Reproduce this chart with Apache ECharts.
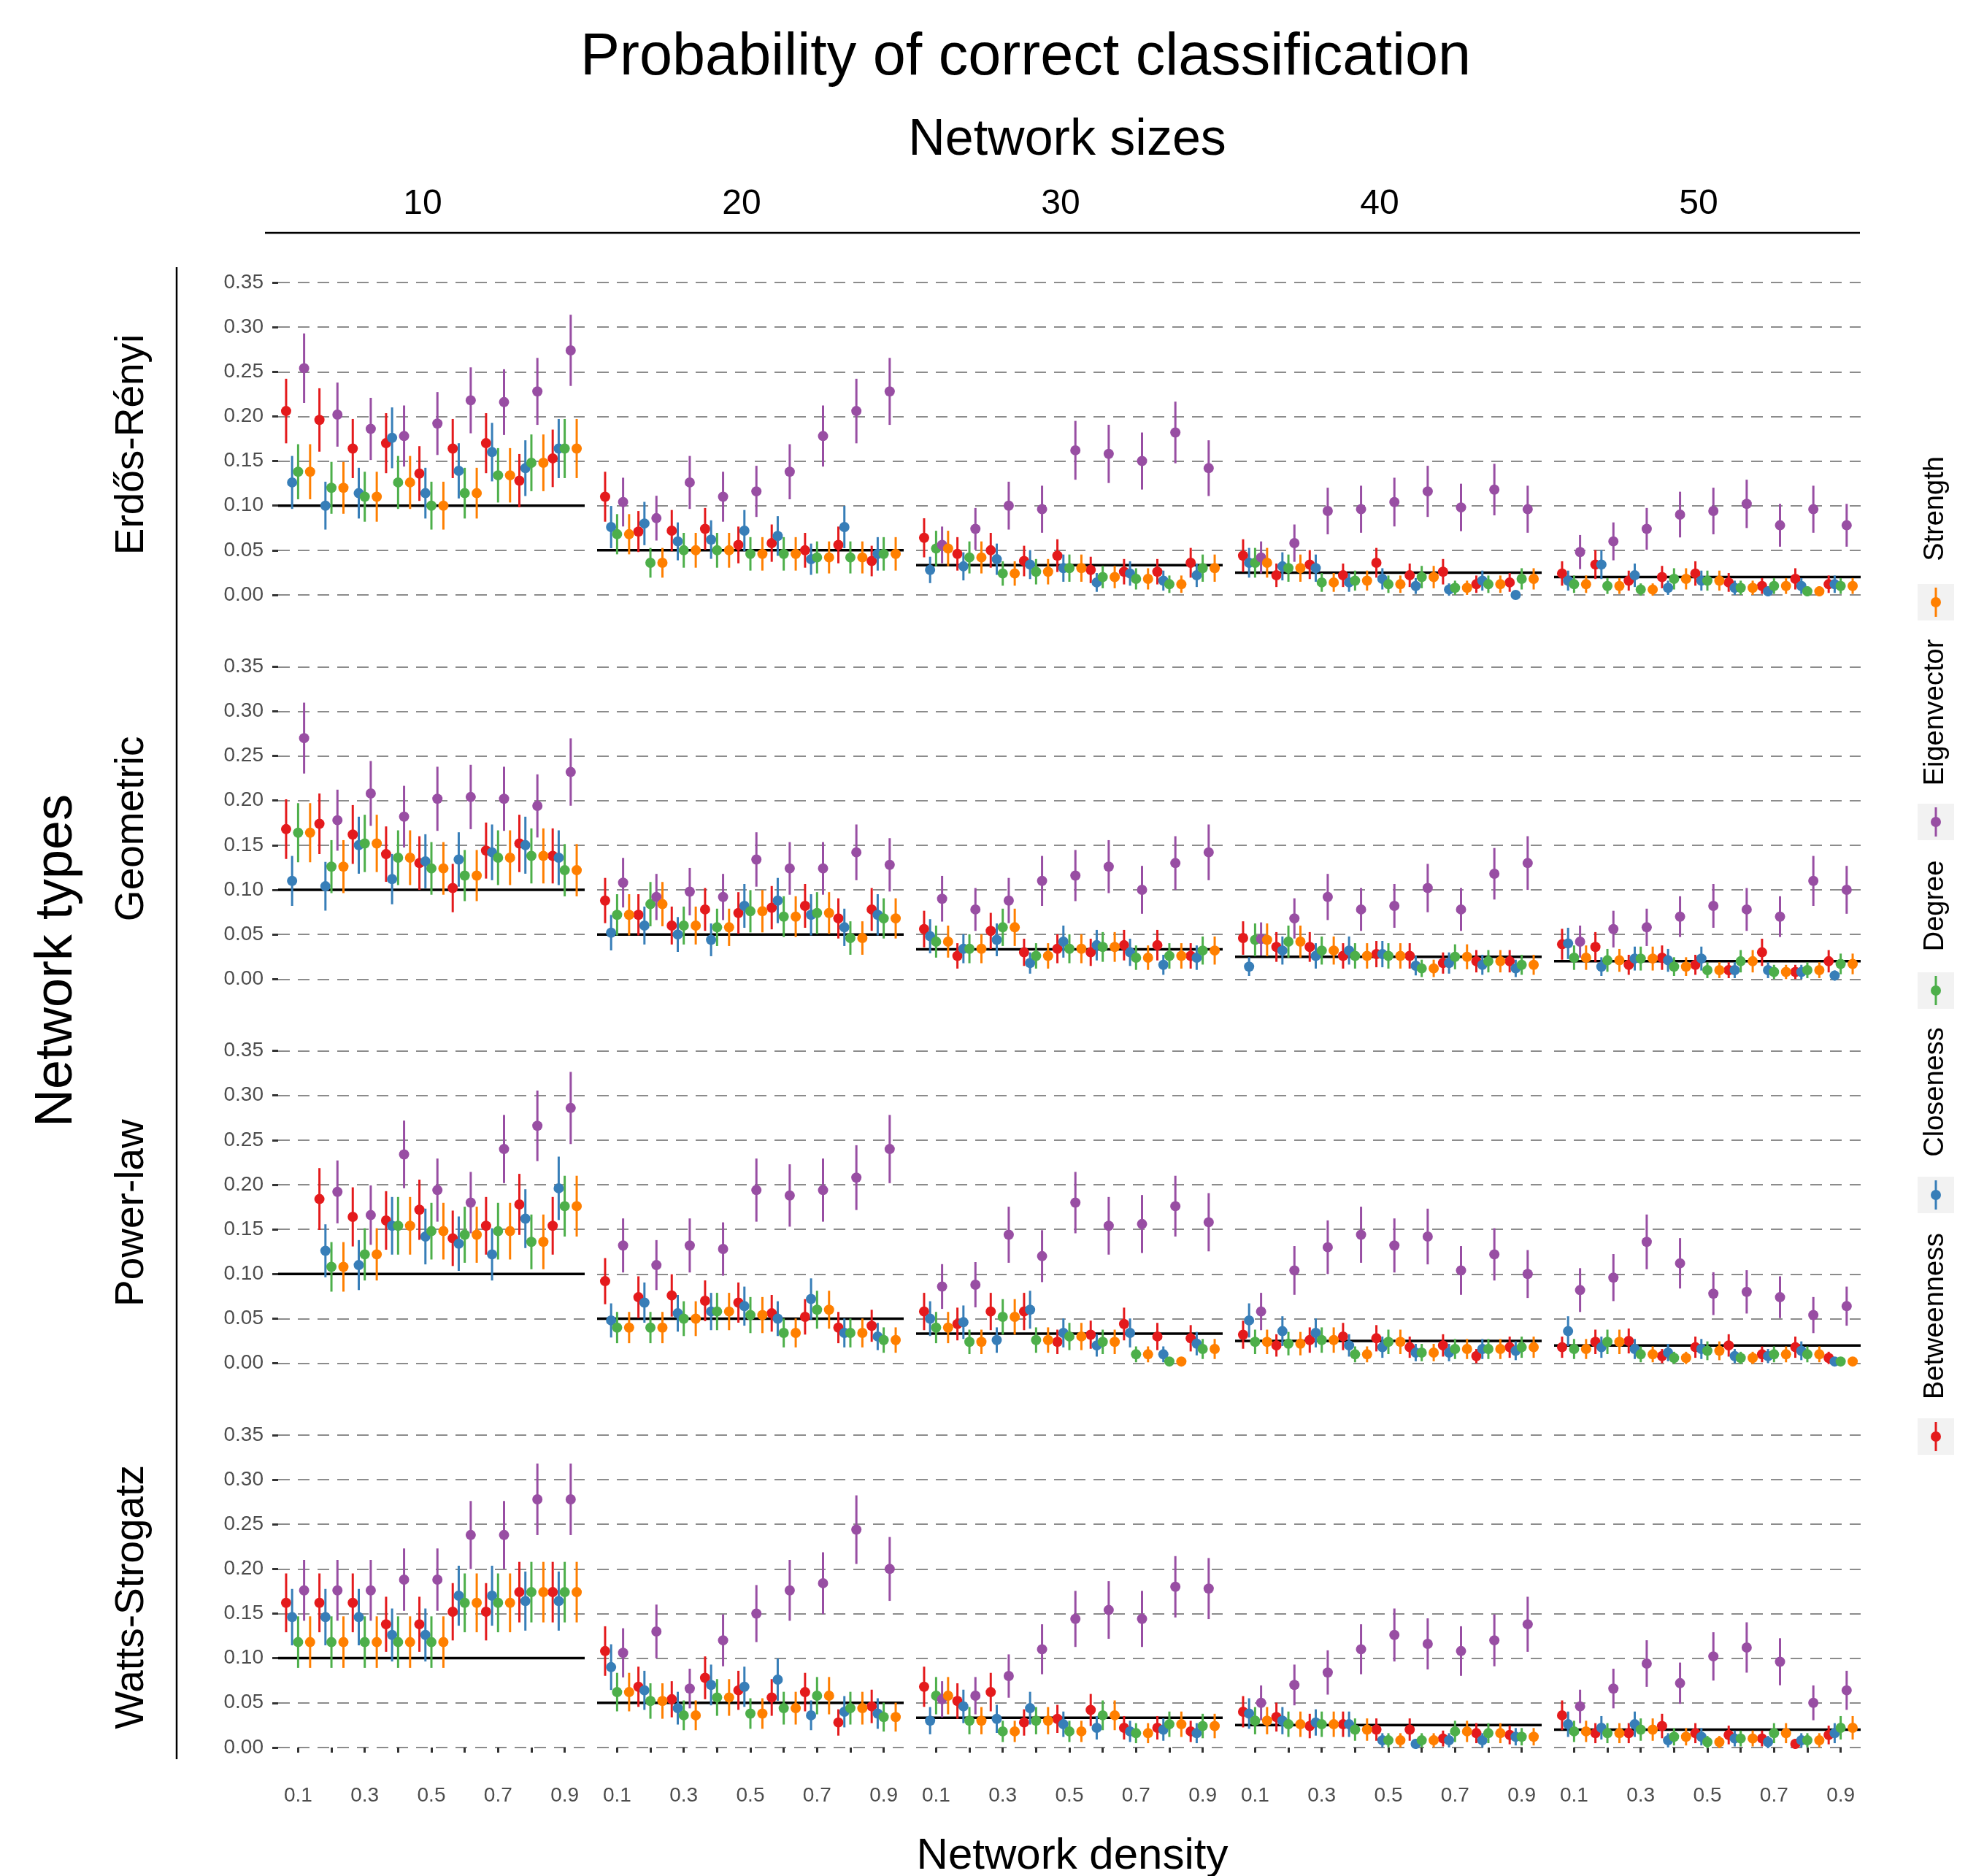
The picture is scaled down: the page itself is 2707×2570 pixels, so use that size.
<!DOCTYPE html>
<html>
<head>
<meta charset="utf-8">
<script src="https://cdn.jsdelivr.net/npm/echarts@6/dist/echarts.min.js"></script>
<style>
	html, body { margin: 0; padding: 0; background: #fff; }
	#main { width: 2707px; height: 2570px; }
</style>
</head>
<body>
<div id="main"></div>
<script>
'use strict';

// x values: network density, one group of dodged points per density
const densities = [0.1, 0.2, 0.3, 0.4, 0.5, 0.6, 0.7, 0.8, 0.9];
const densityLabels = [0.1, 0.3, 0.5, 0.7, 0.9];

const measures = ['Betweenness', 'Closeness', 'Degree', 'Eigenvector', 'Strength'];
const measureColors = ['#E41A1C', '#377EB8', '#4DAF4A', '#984EA3', '#FF7F00'];
const networkTypes = ['Erdős-Rényi', 'Geometric', 'Power-law', 'Watts-Strogatz'];
const networkSizes = [10, 20, 30, 40, 50];
// chance level (1 / network size), drawn as the black line of each panel
const chanceLevel = [0.1, 0.05, 0.0333, 0.025, 0.02];
// number of runs behind each proportion (error bars = +/- 2 standard errors)
const N_RUNS = 500;

// each panel: [Betweenness, Closeness, Degree, Eigenvector, Strength] per density
const erdosRenyi10 = [
	[0.206, 0.196, 0.164, 0.170, 0.136, 0.164, 0.170, 0.128, 0.153],
	[0.126, 0.100, 0.114, 0.176, 0.114, 0.139, 0.160, 0.142, 0.164],
	[0.138, 0.120, 0.110, 0.126, 0.100, 0.114, 0.134, 0.148, 0.164],
	[0.254, 0.202, 0.186, 0.178, 0.192, 0.218, 0.216, 0.228, 0.274],
	[0.138, 0.120, 0.110, 0.126, 0.100, 0.114, 0.134, 0.148, 0.164]
];
const erdosRenyi20 = [
	[0.110, 0.071, 0.072, 0.074, 0.056, 0.058, 0.050, 0.056, 0.038],
	[0.076, 0.080, 0.060, 0.062, 0.072, 0.066, 0.040, 0.076, 0.046],
	[0.068, 0.036, 0.050, 0.050, 0.046, 0.046, 0.042, 0.042, 0.046],
	[0.104, 0.086, 0.126, 0.110, 0.116, 0.138, 0.178, 0.206, 0.228],
	[0.068, 0.036, 0.050, 0.050, 0.046, 0.046, 0.042, 0.042, 0.046]
];
const erdosRenyi30 = [
	[0.064, 0.046, 0.050, 0.038, 0.044, 0.028, 0.026, 0.026, 0.036],
	[0.028, 0.032, 0.040, 0.034, 0.030, 0.014, 0.024, 0.016, 0.022],
	[0.052, 0.042, 0.024, 0.026, 0.030, 0.020, 0.018, 0.012, 0.030],
	[0.056, 0.074, 0.100, 0.096, 0.162, 0.158, 0.150, 0.182, 0.142],
	[0.052, 0.042, 0.024, 0.026, 0.030, 0.020, 0.018, 0.012, 0.030]
];
const erdosRenyi40 = [
	[0.044, 0.022, 0.034, 0.022, 0.036, 0.022, 0.026, 0.012, 0.014],
	[0.036, 0.032, 0.030, 0.014, 0.018, 0.010, 0.006, 0.016, 0.000],
	[0.036, 0.030, 0.014, 0.016, 0.012, 0.020, 0.008, 0.012, 0.018],
	[0.042, 0.058, 0.094, 0.096, 0.104, 0.116, 0.098, 0.118, 0.096],
	[0.036, 0.030, 0.014, 0.016, 0.012, 0.020, 0.008, 0.012, 0.018]
];
const erdosRenyi50 = [
	[0.024, 0.034, 0.016, 0.020, 0.024, 0.014, 0.010, 0.018, 0.012],
	[0.016, 0.034, 0.022, 0.008, 0.016, 0.008, 0.004, 0.010, 0.012],
	[0.012, 0.010, 0.006, 0.018, 0.016, 0.008, 0.010, 0.004, 0.010],
	[0.048, 0.060, 0.074, 0.090, 0.094, 0.102, 0.078, 0.096, 0.078],
	[0.012, 0.010, 0.006, 0.018, 0.016, 0.008, 0.010, 0.004, 0.010]
];

const geometric10 = [
	[0.168, 0.174, 0.162, 0.140, 0.130, 0.102, 0.144, 0.152, 0.138],
	[0.110, 0.104, 0.150, 0.112, 0.132, 0.134, 0.142, 0.150, 0.136],
	[0.164, 0.126, 0.152, 0.136, 0.124, 0.116, 0.136, 0.138, 0.122],
	[0.270, 0.178, 0.208, 0.182, 0.202, 0.204, 0.202, 0.194, 0.232],
	[0.164, 0.126, 0.152, 0.136, 0.124, 0.116, 0.136, 0.138, 0.122]
];
const geometric20 = [
	[0.088, 0.072, 0.060, 0.078, 0.074, 0.080, 0.082, 0.068, 0.078],
	[0.052, 0.060, 0.050, 0.044, 0.082, 0.088, 0.072, 0.058, 0.072],
	[0.072, 0.084, 0.060, 0.058, 0.076, 0.070, 0.074, 0.046, 0.068],
	[0.108, 0.092, 0.098, 0.092, 0.134, 0.124, 0.124, 0.142, 0.128],
	[0.072, 0.084, 0.060, 0.058, 0.076, 0.070, 0.074, 0.046, 0.068]
];
const geometric30 = [
	[0.056, 0.026, 0.054, 0.030, 0.034, 0.030, 0.038, 0.038, 0.026],
	[0.048, 0.034, 0.044, 0.018, 0.042, 0.038, 0.030, 0.016, 0.024],
	[0.042, 0.034, 0.058, 0.026, 0.034, 0.036, 0.024, 0.026, 0.032],
	[0.090, 0.078, 0.088, 0.110, 0.116, 0.126, 0.100, 0.130, 0.142],
	[0.042, 0.034, 0.058, 0.026, 0.034, 0.036, 0.024, 0.026, 0.032]
];
const geometric40 = [
	[0.046, 0.036, 0.036, 0.026, 0.028, 0.026, 0.018, 0.020, 0.020],
	[0.014, 0.032, 0.026, 0.032, 0.028, 0.015, 0.018, 0.016, 0.012],
	[0.044, 0.042, 0.032, 0.026, 0.026, 0.012, 0.025, 0.020, 0.016],
	[0.045, 0.068, 0.092, 0.078, 0.082, 0.102, 0.078, 0.118, 0.130],
	[0.044, 0.042, 0.032, 0.026, 0.026, 0.012, 0.025, 0.020, 0.016]
];
const geometric50 = [
	[0.039, 0.036, 0.016, 0.024, 0.016, 0.010, 0.030, 0.008, 0.020],
	[0.040, 0.014, 0.023, 0.021, 0.023, 0.010, 0.010, 0.008, 0.004],
	[0.024, 0.021, 0.023, 0.014, 0.010, 0.020, 0.008, 0.010, 0.017],
	[0.042, 0.056, 0.058, 0.070, 0.082, 0.078, 0.070, 0.110, 0.100],
	[0.024, 0.021, 0.023, 0.014, 0.010, 0.020, 0.008, 0.010, 0.017]
];

const powerLaw10 = [
	[null, 0.184, 0.164, 0.160, 0.172, 0.140, 0.154, 0.178, 0.154],
	[null, 0.126, 0.110, 0.154, 0.142, 0.134, 0.122, 0.162, 0.196],
	[null, 0.108, 0.122, 0.154, 0.148, 0.144, 0.148, 0.136, 0.176],
	[null, 0.192, 0.166, 0.234, 0.194, 0.180, 0.240, 0.266, 0.286],
	[null, 0.108, 0.122, 0.154, 0.148, 0.144, 0.148, 0.136, 0.176]
];
const powerLaw20 = [
	[0.092, 0.074, 0.076, 0.070, 0.068, 0.056, 0.052, 0.040, 0.042],
	[0.048, 0.068, 0.056, 0.058, 0.064, 0.050, 0.072, 0.034, 0.030],
	[0.040, 0.040, 0.050, 0.058, 0.054, 0.034, 0.060, 0.034, 0.026],
	[0.132, 0.110, 0.132, 0.128, 0.194, 0.188, 0.194, 0.208, 0.240],
	[0.040, 0.040, 0.050, 0.058, 0.054, 0.034, 0.060, 0.034, 0.026]
];
const powerLaw30 = [
	[0.058, 0.044, 0.058, 0.058, 0.024, 0.032, 0.044, 0.030, 0.028],
	[0.050, 0.046, 0.026, 0.060, 0.034, 0.020, 0.034, 0.010, 0.022],
	[0.040, 0.024, 0.052, 0.026, 0.030, 0.024, 0.010, 0.002, 0.016],
	[0.086, 0.088, 0.144, 0.120, 0.180, 0.154, 0.156, 0.176, 0.158],
	[0.040, 0.024, 0.052, 0.026, 0.030, 0.024, 0.010, 0.002, 0.016]
];
const powerLaw40 = [
	[0.032, 0.020, 0.026, 0.030, 0.028, 0.018, 0.020, 0.008, 0.018],
	[0.048, 0.036, 0.034, 0.020, 0.018, 0.012, 0.012, 0.016, 0.014],
	[0.024, 0.022, 0.026, 0.010, 0.024, 0.012, 0.016, 0.016, 0.018],
	[0.058, 0.104, 0.130, 0.144, 0.132, 0.142, 0.104, 0.122, 0.100],
	[0.024, 0.022, 0.026, 0.010, 0.024, 0.012, 0.016, 0.016, 0.018]
];
const powerLaw50 = [
	[0.018, 0.024, 0.025, 0.008, 0.018, 0.020, 0.010, 0.018, 0.006],
	[0.036, 0.018, 0.016, 0.012, 0.016, 0.008, 0.008, 0.014, 0.002],
	[0.016, 0.024, 0.010, 0.006, 0.014, 0.006, 0.010, 0.010, 0.002],
	[0.082, 0.096, 0.136, 0.112, 0.078, 0.080, 0.074, 0.054, 0.064],
	[0.016, 0.024, 0.010, 0.006, 0.014, 0.006, 0.010, 0.010, 0.002]
];

const wattsStrogatz10 = [
	[0.162, 0.162, 0.162, 0.138, 0.138, 0.152, 0.152, 0.174, 0.174],
	[0.146, 0.146, 0.146, 0.126, 0.126, 0.170, 0.170, 0.164, 0.164],
	[0.118, 0.118, 0.118, 0.118, 0.118, 0.162, 0.162, 0.174, 0.174],
	[0.176, 0.176, 0.176, 0.188, 0.188, 0.238, 0.238, 0.278, 0.278],
	[0.118, 0.118, 0.118, 0.118, 0.118, 0.162, 0.162, 0.174, 0.174]
];
const wattsStrogatz20 = [
	[0.108, 0.068, 0.054, 0.078, 0.064, 0.056, 0.062, 0.028, 0.046],
	[0.090, 0.064, 0.044, 0.070, 0.068, 0.076, 0.036, 0.040, 0.038],
	[0.062, 0.052, 0.036, 0.056, 0.038, 0.044, 0.058, 0.044, 0.034],
	[0.106, 0.130, 0.066, 0.120, 0.150, 0.176, 0.184, 0.244, 0.200],
	[0.062, 0.052, 0.036, 0.056, 0.038, 0.044, 0.058, 0.044, 0.034]
];
const wattsStrogatz30 = [
	[0.068, 0.052, 0.062, 0.028, 0.032, 0.042, 0.022, 0.022, 0.018],
	[0.030, 0.046, 0.032, 0.044, 0.026, 0.022, 0.018, 0.020, 0.016],
	[0.058, 0.030, 0.018, 0.030, 0.018, 0.036, 0.016, 0.026, 0.024],
	[0.054, 0.058, 0.080, 0.110, 0.144, 0.154, 0.144, 0.180, 0.178],
	[0.058, 0.030, 0.018, 0.030, 0.018, 0.036, 0.016, 0.026, 0.024]
];
const wattsStrogatz40 = [
	[0.040, 0.034, 0.024, 0.026, 0.020, 0.020, 0.010, 0.016, 0.014],
	[0.038, 0.030, 0.028, 0.026, 0.008, 0.004, 0.008, 0.008, 0.012],
	[0.030, 0.026, 0.026, 0.020, 0.008, 0.008, 0.018, 0.016, 0.012],
	[0.050, 0.070, 0.084, 0.110, 0.126, 0.116, 0.108, 0.120, 0.138],
	[0.030, 0.026, 0.026, 0.020, 0.008, 0.008, 0.018, 0.016, 0.012]
];
const wattsStrogatz50 = [
	[0.036, 0.016, 0.016, 0.024, 0.016, 0.014, 0.010, 0.004, 0.014],
	[0.026, 0.022, 0.026, 0.008, 0.012, 0.010, 0.006, 0.008, 0.016],
	[0.018, 0.016, 0.020, 0.012, 0.006, 0.010, 0.016, 0.008, 0.022],
	[0.046, 0.066, 0.094, 0.072, 0.102, 0.112, 0.096, 0.050, 0.064],
	[0.018, 0.016, 0.020, 0.012, 0.006, 0.010, 0.016, 0.008, 0.022]
];

const panels = [
	[erdosRenyi10, erdosRenyi20, erdosRenyi30, erdosRenyi40, erdosRenyi50],
	[geometric10, geometric20, geometric30, geometric40, geometric50],
	[powerLaw10, powerLaw20, powerLaw30, powerLaw40, powerLaw50],
	[wattsStrogatz10, wattsStrogatz20, wattsStrogatz30, wattsStrogatz40, wattsStrogatz50]
];

// layout (pixels)
const FONT = '"Liberation Sans", Arial, sans-serif';
const PANEL_X0 = 381, PANEL_STEP = 437, PANEL_W = 420;
const ROW_Y0 = 387, ROW_STEP = 526.3, ROW_H = 428;
// dodge offsets (density units) for the 5 measures
const dodge = [-0.036, -0.018, 0, 0.018, 0.036];

const myChart = echarts.init(document.getElementById('main'), null, { renderer: 'canvas' });

const grids = [], xAxes = [], yAxes = [], series = [];

networkTypes.forEach(function(type, r) {
	networkSizes.forEach(function(size, c) {
		const idx = grids.length;
		const isBottom = r === networkTypes.length - 1;
		grids.push({
			left: PANEL_X0 + c * PANEL_STEP,
			top: ROW_Y0 + r * ROW_STEP,
			width: PANEL_W,
			height: ROW_H
		});
		xAxes.push({
			gridIndex: idx,
			type: 'value',
			min: 0.04,
			max: 0.96,
			offset: isBottom ? 21 : 0,
			axisLine: { show: false },
			splitLine: { show: false },
			axisTick: {
				show: isBottom,
				customValues: densities,
				length: 7,
				lineStyle: { color: '#333', width: 3 }
			},
			axisLabel: {
				show: isBottom,
				customValues: densityLabels,
				margin: 31,
				fontSize: 28,
				color: '#4d4d4d',
				fontFamily: FONT,
				formatter: function(v) { return v.toFixed(1); }
			}
		});
		yAxes.push({
			gridIndex: idx,
			type: 'value',
			min: 0,
			max: 0.35,
			interval: 0.05,
			axisLine: { show: false },
			axisTick: {
				show: c === 0,
				length: 8,
				lineStyle: { color: '#333', width: 3 }
			},
			axisLabel: {
				show: c === 0,
				margin: 20,
				fontSize: 28,
				color: '#4d4d4d',
				fontFamily: FONT,
				formatter: function(v) { return v.toFixed(2); }
			},
			splitLine: {
				show: true,
				lineStyle: { color: '#8c8c8c', width: 2, type: [16, 11] }
			}
		});

		// chance level line
		series.push({
			type: 'line',
			xAxisIndex: idx,
			yAxisIndex: idx,
			data: [[0.04, chanceLevel[c]], [0.96, chanceLevel[c]]],
			symbol: 'none',
			silent: true,
			z: 1,
			lineStyle: { color: '#000', width: 3.5 }
		});

		// one point range series per measure
		measures.forEach(function(name, m) {
			const values = panels[r][c][m];
			const data = [];
			densities.forEach(function(d, i) {
				if (values[i] !== null) data.push([d, values[i]]);
			});
			const color = measureColors[m];
			series.push({
				type: 'custom',
				name: name,
				xAxisIndex: idx,
				yAxisIndex: idx,
				z: 2,
				data: data,
				renderItem: function(params, api) {
					const x = api.value(0) + dodge[m];
					const p = api.value(1);
					const half = 2 * Math.sqrt(p * (1 - p) / N_RUNS);
					const top = api.coord([x, p + half]);
					const bot = api.coord([x, p - half]);
					const mid = api.coord([x, p]);
					return {
						type: 'group',
						children: [
							{
								type: 'line',
								shape: { x1: top[0], y1: top[1], x2: bot[0], y2: bot[1] },
								style: { stroke: color, lineWidth: 3 }
							},
							{
								type: 'circle',
								shape: { cx: mid[0], cy: mid[1], r: 7 },
								style: { fill: color }
							}
						]
					};
				}
			});
		});
	});
});

// helper for plain text elements
function label(text, x, y, size, rotate, color) {
	return {
		type: 'text',
		x: x,
		y: y,
		rotation: rotate ? Math.PI / 2 : 0,
		silent: true,
		style: {
			text: text,
			fontSize: size,
			fontFamily: FONT,
			fill: color || '#000',
			align: 'center',
			verticalAlign: 'middle',
			textAlign: 'center',
			textVerticalAlign: 'middle'
		}
	};
}

const graphics = [];
graphics.push(label('Probability of correct classification', 1405, 80, 81));
graphics.push(label('Network sizes', 1462, 193, 70));
networkSizes.forEach(function(size, c) {
	graphics.push(label(String(size), PANEL_X0 + c * PANEL_STEP + PANEL_W / 2 - 12, 280, 48));
});
graphics.push({
	type: 'line',
	silent: true,
	shape: { x1: 363, y1: 319, x2: 2548, y2: 319 },
	style: { stroke: '#000', lineWidth: 2.5 }
});
graphics.push(label('Network types', 78, 1316, 72, true));
graphics.push({
	type: 'line',
	silent: true,
	shape: { x1: 242, y1: 366, x2: 242, y2: 2410 },
	style: { stroke: '#000', lineWidth: 2.5 }
});
networkTypes.forEach(function(type, r) {
	graphics.push(label(type, 181, ROW_Y0 + r * ROW_STEP + ROW_H / 2 + 8, 55, true));
});
graphics.push(label('Network density', 1469, 2543, 60));

// legend on the right, rotated labels above each key
const legendX = 2652;
const legendKeyY = [1968, 1637, 1357, 1126, 825];
const legendTextY = [1803, 1496, 1241, 976, 697];
measures.forEach(function(name, m) {
	const ky = legendKeyY[m];
	graphics.push({
		type: 'rect',
		silent: true,
		shape: { x: legendX - 25, y: ky - 25, width: 50, height: 50 },
		style: { fill: '#f2f2f2' }
	});
	graphics.push({
		type: 'line',
		silent: true,
		shape: { x1: legendX, y1: ky - 20, x2: legendX, y2: ky + 20 },
		style: { stroke: measureColors[m], lineWidth: 3 }
	});
	graphics.push({
		type: 'circle',
		silent: true,
		shape: { cx: legendX, cy: ky, r: 7 },
		style: { fill: measureColors[m] }
	});
	graphics.push(label(name, legendX, legendTextY[m], 38, true));
});

const option = {
	animation: false,
	backgroundColor: '#fff',
	grid: grids,
	xAxis: xAxes,
	yAxis: yAxes,
	series: series,
	graphic: { elements: graphics }
};

myChart.setOption(option);
</script>
</body>
</html>
